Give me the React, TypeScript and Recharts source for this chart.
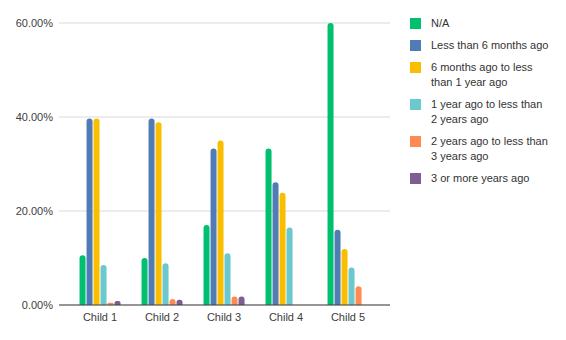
import React from 'react';
import {
  BarChart,
  Bar,
  XAxis,
  YAxis,
  CartesianGrid,
  Legend,
} from 'recharts';

const categories = ['Child 1', 'Child 2', 'Child 3', 'Child 4', 'Child 5'];

const seriesNames = [
  'N/A',
  'Less than 6 months ago',
  '6 months ago to less than 1 year ago',
  '1 year ago to less than 2 years ago',
  '2 years ago to less than 3 years ago',
  '3 or more years ago',
];

const seriesColors = ['#00bf6f', '#507cb6', '#f9be00', '#6bc8cd', '#ff8b50', '#7d5d94'];

// values in %, one array per series, in category order
const naValues = [10.6, 10.0, 17.0, 33.3, 60.0];
const under6mValues = [39.7, 39.7, 33.3, 26.1, 16.0];
const sixTo12mValues = [39.7, 38.9, 35.0, 23.9, 11.9];
const oneTo2yValues = [8.5, 8.9, 11.0, 16.5, 8.0];
const twoTo3yValues = [0.5, 1.3, 1.8, 0, 4.0];
const threePlusValues = [0.85, 1.1, 1.8, 0, 0];

const yTicks = [0, 20, 40, 60];

const seriesValues = [naValues, under6mValues, sixTo12mValues, oneTo2yValues, twoTo3yValues, threePlusValues];

const data = categories.map((name, i) => {
  const row: Record<string, string | number> = { name };
  seriesNames.forEach((s, j) => {
    row[s] = seriesValues[j][i];
  });
  return row;
});

const FONT = '"Liberation Sans", Arial, sans-serif';

function renderLegend() {
  return (
    <div style={{ fontFamily: FONT, fontSize: 11, color: '#333', lineHeight: '15px' }}>
      {seriesNames.map((s, i) => (
        <div key={s} style={{ display: 'flex', alignItems: 'flex-start', marginBottom: 7 }}>
          <div
            style={{
              width: 11,
              height: 11,
              marginTop: 2,
              marginLeft: 10,
              marginRight: 10,
              background: seriesColors[i],
              flexShrink: 0,
            }}
          />
          <div style={{ width: 118 }}>{s}</div>
        </div>
      ))}
    </div>
  );
}

export default function App() {
  return (
    <div style={{ position: 'absolute', left: 0, top: 0, background: '#fff' }}>
      <BarChart
        width={566}
        height={340}
        data={data}
        margin={{ top: 23, right: 10, left: 8, bottom: 5 }}
        barCategoryGap="17%"
        barGap={1}
      >
        <CartesianGrid vertical={false} stroke="#d9d9d9" />
        <XAxis
          dataKey="name"
          height={30}
          tickLine={false}
          axisLine={{ stroke: '#404040' }}
          padding={{ left: 10, right: 11 }}
          tick={{ fontSize: 11, fill: '#404040', fontFamily: FONT }}
        />
        <YAxis
          width={51}
          domain={[0, 60]}
          ticks={yTicks}
          axisLine={false}
          tickLine={false}
          tickSize={4}
          tickMargin={2}
          tickFormatter={(v: number) => `${v.toFixed(2)}%`}
          tick={{ fontSize: 11, fill: '#404040', fontFamily: FONT }}
        />
        <Legend
          layout="vertical"
          align="right"
          verticalAlign="top"
          content={renderLegend}
          wrapperStyle={{ left: 400, top: 16, width: 166 }}
        />
        {seriesNames.map((s, i) => (
          <Bar
            key={s}
            dataKey={s}
            fill={seriesColors[i]}
            radius={[3, 3, 0, 0]}
            isAnimationActive={false}
          />
        ))}
      </BarChart>
    </div>
  );
}
